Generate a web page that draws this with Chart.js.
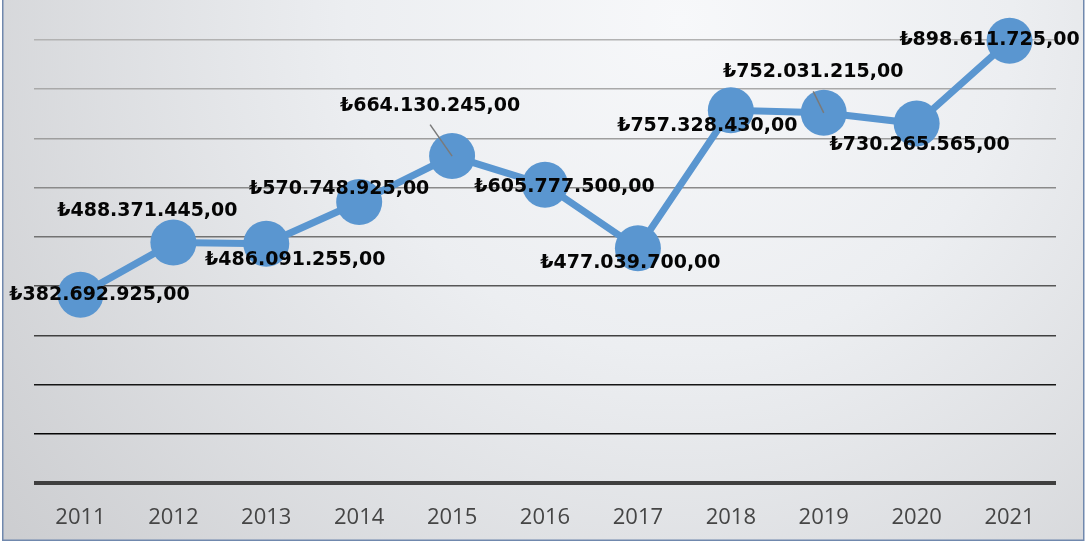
<!DOCTYPE html>
<html>
<head>
<meta charset="utf-8">
<script src="https://cdn.jsdelivr.net/npm/chart.js@4"></script>
<style>
  html, body { margin: 0; padding: 0; background: #ffffff; }
  #wrap { position: relative; width: 1092px; height: 543px; }
</style>
</head>
<body>
<div id="wrap"><canvas id="c" width="1092" height="543"></canvas></div>
<script>
// ---- data ----
const years = ['2011','2012','2013','2014','2015','2016','2017','2018','2019','2020','2021'];
const values = [382692925, 488371445, 486091255, 570748925, 664130245, 605777500, 477039700, 757328430, 752031215, 730265565, 898611725];
const yTicks = [0, 100000000, 200000000, 300000000, 400000000, 500000000, 600000000, 700000000, 800000000, 900000000];

// ---- label placement (style, not data) ----
const labelOffsets = [[19,0],[-26,-32],[29,16.5],[-20,-13.5],[-22,-50.5],[19.5,2],[-7.5,14.5],[-23.5,15.5],[-10.5,-40.5],[3,21.5],[-20,-0.5]];
const labelLeaders = [false,false,false,false,true,false,false,false,true,false,false];

function fmtTL(v) {
  const s = Math.round(v).toString().replace(/\B(?=(\d{3})+(?!\d))/g, '.');
  return '\u20BA' + s + ',00';
}

const gridColors = ['#3f3f3f', '#050505', '#151515', '#404040', '#575757', '#727272', '#8a8a8a', '#9e9e9e', '#a9a9a9', '#b2b2b2'];

const bgPlugin = {
  id: 'bg',
  beforeDraw(chart) {
    const ctx = chart.ctx;
    ctx.save();
    ctx.fillStyle = '#ffffff';
    ctx.fillRect(0, 0, chart.width, chart.height);
    const g = ctx.createRadialGradient(680, 20, 0, 680, 20, 950);
    g.addColorStop(0, '#f7f8fa');
    g.addColorStop(0.35, '#eceef1');
    g.addColorStop(1, '#c6c7ca');
    ctx.fillStyle = g;
    ctx.fillRect(3, 0, 1081, 541);
    ctx.strokeStyle = '#7088ad';
    ctx.lineWidth = 1.5;
    ctx.beginPath();
    ctx.moveTo(2.75, 0);
    ctx.lineTo(2.75, 540.25);
    ctx.lineTo(1083.75, 540.25);
    ctx.lineTo(1083.75, 0);
    ctx.stroke();
    ctx.restore();
  }
};

const labelPlugin = {
  id: 'vlabels',
  afterDatasetsDraw(chart) {
    const ctx = chart.ctx;
    const meta = chart.getDatasetMeta(0);
    ctx.save();
    meta.data.forEach((pt, i) => {
      const lx = pt.x + labelOffsets[i][0];
      const ly = pt.y + labelOffsets[i][1];
      if (labelLeaders[i]) {
        ctx.strokeStyle = '#7a7a7a';
        ctx.lineWidth = 1.5;
        ctx.beginPath();
        ctx.moveTo(lx, ly + 19);
        ctx.lineTo(pt.x, pt.y);
        ctx.stroke();
      }
    });
    ctx.font = 'bold 19px "DejaVu Sans"';
    ctx.fillStyle = '#050505';
    ctx.textAlign = 'center';
    ctx.textBaseline = 'middle';
    meta.data.forEach((pt, i) => {
      const lx = pt.x + labelOffsets[i][0];
      const ly = pt.y + labelOffsets[i][1];
      ctx.fillText(fmtTL(values[i]), lx, ly);
    });
    ctx.restore();
  }
};

new Chart(document.getElementById('c'), {
  type: 'line',
  data: {
    labels: years,
    datasets: [{
      data: values,
      borderColor: '#5A96D0',
      backgroundColor: '#5A96D0',
      borderWidth: 7,
      pointRadius: 23,
      pointHoverRadius: 23,
      pointBorderWidth: 0,
      pointBackgroundColor: '#5A96D0',
      tension: 0,
      clip: false,
      fill: false
    }]
  },
  options: {
    responsive: false,
    animation: false,
    events: [],
    layout: { padding: { left: 34, right: 36, top: 40, bottom: 0 } },
    plugins: { legend: { display: false }, tooltip: { enabled: false } },
    scales: {
      x: {
        offset: true,
        grid: { display: false, drawTicks: false },
        border: { display: false },
        afterFit(scale) { scale.height = 60; },
        ticks: {
          color: '#454545',
          font: { family: '"Open Sans"', size: 22 },
          padding: 22
        }
      },
      y: {
        min: 0,
        max: 900000000,
        afterBuildTicks(scale) { scale.ticks = yTicks.map(v => ({ value: v })); },
        ticks: { display: false },
        border: { display: false },
        grid: {
          drawTicks: false,
          color: (c) => gridColors[c.index] || '#999',
          lineWidth: (c) => c.index === 0 ? 4 : 1.6
        }
      }
    }
  },
  plugins: [bgPlugin, labelPlugin]
});
</script>
</body>
</html>
